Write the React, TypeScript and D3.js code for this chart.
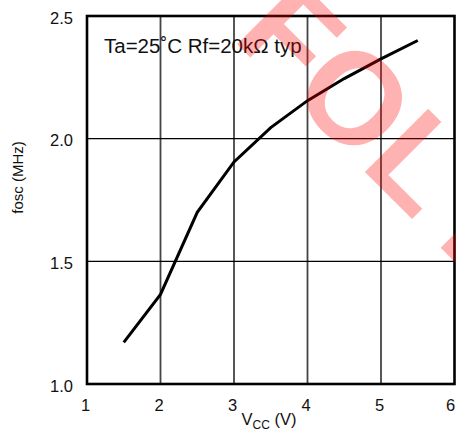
import React from "react";
import * as d3 from "d3";

const vcc = [1.5, 2, 2.5, 3, 3.5, 4, 4.5, 5, 5.5];
const fosc = [1.17, 1.365, 1.7, 1.905, 2.045, 2.155, 2.245, 2.325, 2.4];
const xTicks = [1, 2, 3, 4, 5, 6];
const yTicks = [1.0, 1.5, 2.0, 2.5];
const annotation = "Ta=25˚C Rf=20kΩ typ";

const W = 456;
const H = 440;
const L = 87;
const R = 454.5;
const T = 16;
const B = 384;
const FONT = "Arial, 'Liberation Sans', Helvetica, sans-serif";

export default function App() {
  const x = d3.scaleLinear().domain([1, 6]).range([L, R]);
  const y = d3.scaleLinear().domain([1, 2.5]).range([B, T]);
  const line = d3
    .line<number>()
    .x((_, i) => x(vcc[i]))
    .y((d) => y(d));
  const pathD = line(fosc) || "";

  return (
    <svg
      width={W}
      height={H}
      style={{ position: "absolute", left: 0, top: 0, background: "#fff" }}
      fontFamily={FONT}
    >
      <rect x={0} y={0} width={W} height={H} fill="#fff" />
      {/* grid */}
      {xTicks.slice(1, -1).map((t) => (
        <line key={"gx" + t} x1={x(t)} x2={x(t)} y1={T} y2={B} stroke="#444" strokeWidth={1.8} />
      ))}
      {yTicks.slice(1, -1).map((t) => (
        <line key={"gy" + t} x1={L} x2={R} y1={y(t)} y2={y(t)} stroke="#000" strokeWidth={1.3} />
      ))}
      {/* frame */}
      <rect x={L} y={T} width={R - L} height={B - T} fill="none" stroke="#000" strokeWidth={2.6} />
      {/* curve */}
      <path d={pathD} fill="none" stroke="#000" strokeWidth={3} strokeLinejoin="miter" />
      {/* annotation */}
      <text x={104} y={53} fontSize={20.5} fill="#111">
        {annotation}
      </text>
      {/* y tick labels */}
      {yTicks.map((t) => (
        <text key={"yl" + t} x={73} y={y(t) + 7.5} fontSize={16.5} textAnchor="end" fill="#111">
          {t.toFixed(1)}
        </text>
      ))}
      {/* x tick labels */}
      {xTicks.map((t) => (
        <text
          key={"xl" + t}
          x={Math.min(x(t) - 1.5, W - 5.5)}
          y={410.5}
          fontSize={16.5}
          textAnchor="middle"
          fill="#111"
        >
          {t}
        </text>
      ))}
      {/* axis titles */}
      <text x={269} y={425} fontSize={16.5} textAnchor="middle" fill="#111">
        V<tspan fontSize={12} dy={4}>CC</tspan>
        <tspan dy={-4}> (V)</tspan>
      </text>
      <text
        transform={`translate(23,177.5) rotate(-90)`}
        fontSize={15}
        textAnchor="middle"
        fill="#111"
      >
        fosc (MHz)
      </text>
      {/* watermark */}
      <text
        transform="translate(231,38) rotate(45)"
        fontSize={130}
        fontWeight="bold"
        fill="#ff0000"
        fillOpacity={0.3}
        fontFamily="Arial, 'Liberation Sans', sans-serif"
      >
        FOL<tspan dx={28}>E</tspan>
      </text>
    </svg>
  );
}
